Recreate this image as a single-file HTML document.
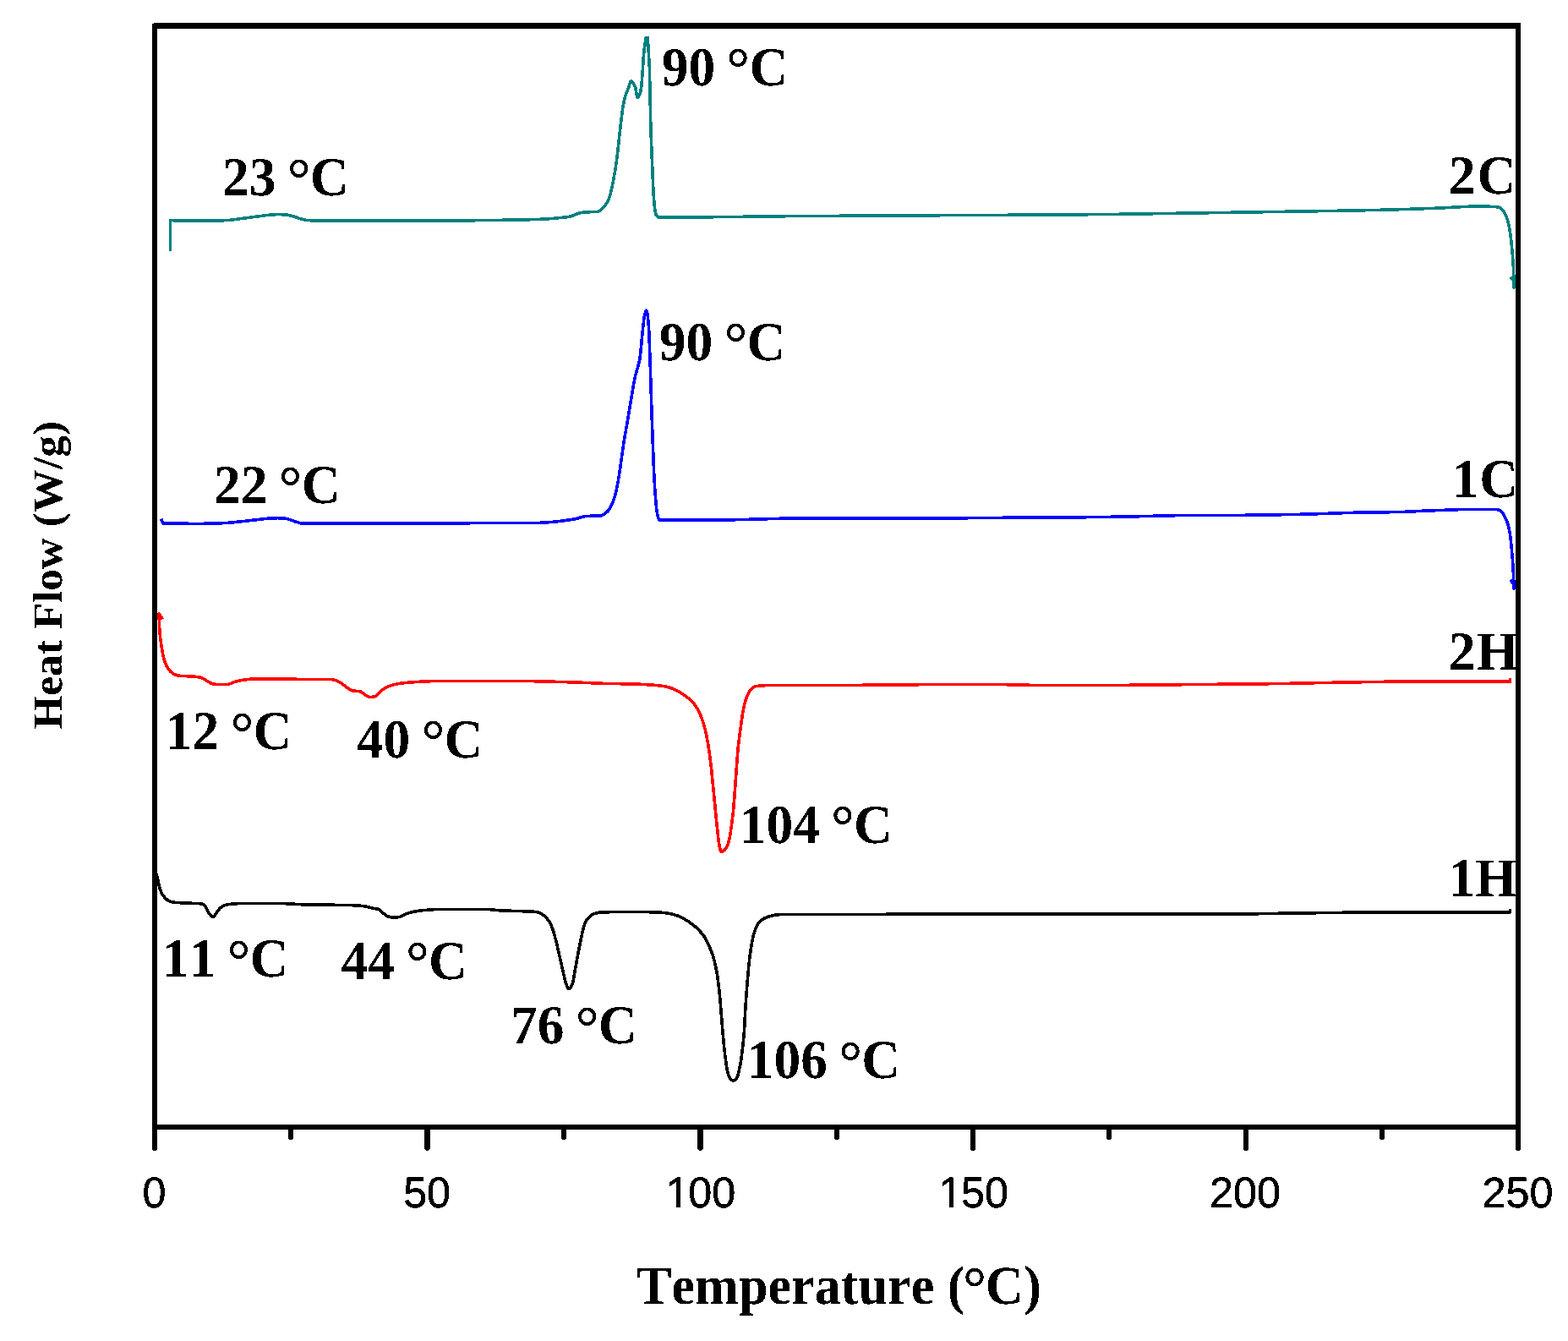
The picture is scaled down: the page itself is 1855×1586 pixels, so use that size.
<!DOCTYPE html>
<html lang="en"><head><meta charset="utf-8"><title>DSC thermogram: Heat Flow vs Temperature</title>
<style>html,body{margin:0;padding:0;background:#fff}body{width:1855px;height:1586px;overflow:hidden}svg{display:block}text{font-kerning:none;font-variant-ligatures:none;text-rendering:geometricPrecision}.s{font-family:"Liberation Serif","Times New Roman",Times,serif;font-weight:bold;fill:#000}.a{font-family:"Liberation Sans",Arial,Helvetica,sans-serif;fill:#000}</style></head><body>
<svg width="1855" height="1586" viewBox="0 0 1855 1586">
<defs><filter id="crisp" x="-5%" y="-20%" width="110%" height="140%" color-interpolation-filters="sRGB"><feComponentTransfer><feFuncA type="discrete" tableValues="0 1"/></feComponentTransfer></filter></defs>
<rect x="0" y="0" width="1855" height="1586" fill="#ffffff"/>
<g id="curves">
<g id="curve-1H">
<g transform="translate(0,0)"><path d="M184.0,1030.0 L186.4,1039.3 L188.6,1049.1 L189.3,1051.4 L190.1,1053.6 L190.7,1055.1 L191.6,1056.9 L193.4,1059.7 L195.4,1062.1 L197.5,1064.0 L199.2,1065.2 L200.9,1066.0 L203.6,1066.8 L206.4,1067.3 L214.4,1067.8 L234.6,1068.6 L237.7,1068.8 L239.1,1069.0 L239.8,1069.4 L240.8,1070.1 L242.9,1072.1 L244.2,1074.0 L246.3,1078.5 L248.3,1081.6 L249.1,1082.5 L249.9,1083.4 L250.9,1084.0 L251.6,1084.4 L252.0,1084.4 L252.7,1084.1 L254.1,1082.6 L256.8,1078.6 L259.3,1075.3 L260.6,1073.8 L262.1,1072.6 L264.5,1071.2 L266.0,1070.6 L267.6,1070.1 L271.0,1069.6 L278.2,1068.8 L285.5,1068.5 L333.5,1068.5 L339.9,1068.8 L354.3,1069.6 L360.3,1069.9 L411.9,1070.5 L419.5,1070.8 L427.1,1071.3 L433.4,1072.1 L439.5,1073.9 L445.1,1074.8 L447.0,1075.2 L448.0,1075.7 L449.0,1076.3 L452.7,1079.6 L456.7,1082.6 L458.4,1083.7 L459.8,1084.2 L461.3,1084.5 L463.7,1084.9 L466.1,1085.1 L467.7,1085.1 L469.7,1084.9 L472.1,1084.5 L474.0,1084.1 L475.5,1083.5 L478.6,1081.6 L480.1,1080.9 L485.0,1079.3 L489.7,1078.2 L494.8,1077.4 L500.4,1076.7 L510.7,1075.8 L516.7,1075.5 L520.3,1075.4 L575.5,1075.4 L580.3,1075.7 L589.9,1076.7 L593.9,1077.0 L625.1,1077.9 L631.9,1078.3 L635.0,1078.7 L636.6,1079.0 L637.7,1079.4 L639.2,1080.1 L642.0,1081.7 L643.9,1083.1 L646.0,1085.0 L648.0,1087.5 L649.8,1090.1 L651.6,1093.3 L653.0,1096.6 L654.1,1099.6 L655.3,1103.4 L658.4,1115.1 L668.6,1160.0 L669.7,1163.4 L671.2,1167.3 L672.1,1168.8 L672.5,1169.3 L673.0,1169.5 L673.4,1169.4 L674.3,1168.8 L675.1,1167.7 L675.9,1166.5 L676.9,1164.3 L677.8,1161.3 L678.5,1157.8 L683.3,1130.8 L684.9,1122.5 L686.6,1113.9 L689.5,1100.6 L690.9,1095.2 L691.7,1092.9 L692.5,1091.1 L693.5,1089.3 L694.5,1087.5 L695.7,1086.0 L697.0,1084.6 L698.6,1083.2 L699.9,1082.2 L702.0,1081.0 L705.0,1080.1 L708.1,1079.3 L711.4,1078.9 L731.3,1078.5 L755.4,1078.4 L771.8,1078.8 L781.8,1079.2 L785.7,1079.5 L789.3,1080.0 L792.9,1080.7 L797.6,1081.9 L801.7,1083.1 L804.7,1084.3 L808.3,1086.2 L813.5,1089.3 L816.8,1091.5 L820.0,1093.9 L823.1,1096.5 L826.2,1099.5 L829.0,1102.5 L831.1,1104.9 L833.0,1107.5 L834.6,1110.2 L836.4,1113.3 L838.1,1117.0 L839.8,1121.0 L841.8,1125.9 L843.4,1130.4 L845.2,1136.5 L847.0,1144.7 L848.6,1153.4 L849.9,1163.3 L851.0,1172.9 L851.9,1182.0 L855.0,1220.3 L856.5,1237.0 L857.7,1247.8 L859.4,1260.5 L860.1,1264.5 L860.9,1268.3 L861.7,1271.0 L862.6,1273.4 L863.5,1275.2 L864.7,1276.7 L866.0,1277.7 L867.1,1278.1 L867.9,1278.0 L868.6,1277.7 L869.4,1277.3 L870.4,1276.5 L871.0,1275.9 L871.6,1275.0 L872.1,1274.1 L872.7,1272.7 L873.6,1269.4 L875.1,1262.6 L876.2,1257.1 L877.1,1251.2 L878.8,1237.3 L880.1,1223.7 L880.7,1215.0 L881.8,1193.8 L882.7,1180.2 L884.1,1161.9 L885.6,1144.3 L886.8,1133.2 L888.3,1122.1 L889.6,1114.2 L891.0,1107.5 L891.8,1104.4 L892.7,1101.7 L893.6,1099.1 L894.7,1096.5 L895.8,1094.4 L896.9,1092.6 L898.1,1090.9 L899.4,1089.4 L900.5,1088.4 L901.7,1087.5 L903.5,1086.5 L905.3,1085.6 L907.3,1084.8 L909.1,1084.2 L912.2,1083.3 L914.9,1082.6 L917.7,1082.1 L920.1,1081.8 L927.3,1081.4 L933.3,1081.3 L981.7,1081.6 L1094.5,1081.1 L1462.1,1081.0 L1478.9,1080.9 L1517.7,1080.2 L1613.3,1079.0 L1786.5,1078.9 L1786.5,1078.9 L1786.7,1075.0" fill="none" stroke="#000000" stroke-width="3.6" stroke-linejoin="round" stroke-linecap="butt" shape-rendering="crispEdges"/></g>
</g>
<g id="curve-2H">
<g transform="translate(0,0)"><path d="M192.3,732.5 L188.2,725.8 L188.2,725.8 L188.4,737.4 L188.7,743.0 L188.9,747.4 L189.4,752.2 L190.1,757.7 L191.2,765.3 L192.0,770.4 L192.8,774.4 L193.6,777.9 L194.4,780.9 L195.2,783.2 L196.2,785.8 L197.6,788.7 L198.9,790.8 L200.3,792.7 L202.2,794.7 L204.4,796.5 L206.2,797.5 L208.7,798.5 L211.1,799.1 L213.1,799.4 L228.3,800.0 L233.1,800.5 L237.0,801.1 L238.5,801.6 L240.3,802.5 L244.1,804.8 L247.5,807.0 L248.9,807.8 L250.0,808.2 L251.5,808.7 L254.7,809.3 L256.7,809.5 L269.5,809.4 L270.6,809.2 L272.1,808.7 L276.2,806.9 L277.8,806.3 L283.2,805.1 L286.7,804.4 L289.9,803.9 L297.1,803.1 L301.5,802.8 L345.5,802.8 L347.5,802.9 L352.6,803.5 L354.6,803.6 L393.0,803.6 L394.6,803.9 L396.5,804.4 L398.8,805.3 L401.7,806.6 L403.7,807.9 L407.5,811.0 L412.8,814.8 L415.2,816.3 L416.7,816.9 L417.8,817.1 L424.2,817.6 L425.8,817.8 L426.5,818.0 L428.2,818.9 L431.5,821.4 L435.0,823.7 L436.4,824.4 L437.6,824.5 L439.6,824.4 L441.6,824.1 L442.7,823.9 L443.7,823.5 L444.7,822.9 L445.6,822.2 L448.8,818.8 L450.0,817.6 L452.3,816.0 L455.0,814.2 L457.1,813.0 L459.2,812.0 L462.6,810.7 L466.1,809.7 L468.8,809.1 L472.7,808.4 L476.7,807.8 L480.3,807.4 L496.2,806.3 L509.4,805.7 L518.2,805.6 L619.4,805.6 L631.0,805.7 L649.8,806.1 L681.8,807.0 L713.4,808.3 L749.0,809.0 L758.2,809.3 L766.3,809.8 L773.9,810.3 L780.7,811.0 L786.9,811.8 L788.8,812.2 L791.8,813.0 L794.9,814.2 L798.6,815.9 L804.0,818.6 L806.0,819.8 L808.4,821.3 L811.4,823.4 L814.5,825.9 L817.2,828.3 L819.8,830.9 L821.5,833.0 L823.2,835.3 L824.9,838.0 L826.6,841.2 L828.2,844.5 L829.7,848.1 L831.1,851.9 L832.3,855.7 L834.1,862.3 L835.9,870.5 L837.6,879.9 L839.2,890.2 L840.5,900.1 L841.7,910.5 L847.7,971.8 L849.9,992.9 L850.7,998.4 L851.7,1003.6 L852.1,1005.0 L852.6,1006.2 L853.1,1007.1 L853.5,1007.3 L854.0,1007.2 L855.0,1006.8 L856.2,1006.1 L857.3,1005.3 L858.5,1003.9 L859.9,1001.5 L861.2,998.3 L862.3,994.5 L863.3,989.8 L864.2,984.7 L866.3,969.6 L867.2,962.0 L867.9,954.4 L868.9,942.5 L872.0,898.6 L873.3,883.4 L874.8,871.1 L877.5,850.9 L878.7,843.0 L879.9,836.7 L881.2,831.2 L882.7,826.2 L884.4,821.8 L886.1,818.4 L887.0,817.1 L888.0,815.8 L889.9,814.1 L891.3,813.1 L892.8,812.2 L893.9,811.8 L895.0,811.5 L901.3,810.9 L907.8,810.6 L996.2,810.6 L1051.0,809.9 L1087.4,809.7 L1183.8,809.6 L1197.0,809.8 L1225.8,810.5 L1238.2,810.6 L1326.6,810.4 L1502.6,808.7 L1525.8,808.3 L1581.0,807.2 L1636.9,806.3 L1786.5,806.2 L1786.5,806.2 L1786.7,802.2" fill="none" stroke="#ff0000" stroke-width="3.6" stroke-linejoin="round" stroke-linecap="butt" shape-rendering="crispEdges"/></g>
</g>
<g id="curve-1C">
<g transform="translate(0,0)"><path d="M190.6,613.5 L192.5,618.5 L192.5,618.8 L209.3,619.2 L234.9,619.4 L248.5,619.2 L265.7,618.6 L271.3,618.2 L277.6,617.6 L290.8,616.2 L314.6,613.4 L322.6,612.9 L328.6,612.7 L333.4,612.9 L337.0,613.2 L338.5,613.4 L340.5,613.9 L344.3,615.1 L349.6,617.0 L353.8,618.3 L357.0,619.0 L359.3,619.2 L506.5,619.2 L557.7,618.7 L634.5,618.5 L641.3,618.2 L650.9,617.6 L655.7,617.2 L662.1,616.5 L672.8,615.0 L680.7,613.7 L683.4,613.1 L688.8,611.3 L691.1,610.8 L693.8,610.5 L697.8,610.3 L710.2,609.9 L711.4,609.7 L712.5,609.3 L713.7,608.7 L715.1,607.8 L717.0,606.4 L718.1,605.4 L719.2,604.3 L720.5,602.6 L721.6,600.9 L722.7,599.1 L724.5,595.2 L726.3,590.3 L728.0,584.5 L729.6,577.9 L731.1,570.0 L733.0,558.6 L736.4,534.0 L738.0,523.3 L749.7,454.3 L750.7,448.8 L751.5,444.9 L752.6,441.0 L755.5,430.6 L756.3,427.5 L756.9,424.4 L757.5,419.6 L758.1,414.5 L759.8,396.1 L761.8,377.3 L762.5,373.4 L763.1,370.6 L764.0,367.9 L764.3,367.3 L764.6,367.2 L764.8,367.4 L765.0,367.9 L765.5,369.4 L766.0,371.8 L766.4,374.3 L767.2,383.0 L767.8,393.0 L769.1,426.7 L771.0,488.2 L772.6,532.6 L773.5,555.8 L774.9,581.0 L776.0,594.9 L776.7,602.2 L777.3,606.3 L778.0,609.8 L778.8,612.7 L779.7,614.3 L780.2,615.0 L780.5,615.1 L780.8,615.2 L818.4,615.2 L866.4,614.8 L883.2,614.4 L926.0,613.2 L935.6,613.0 L1006.4,613.1 L1115.2,613.0 L1196.8,612.2 L1277.6,611.8 L1302.4,611.5 L1344.0,610.8 L1383.2,609.8 L1398.4,609.6 L1462.4,609.4 L1484.4,609.2 L1523.2,608.6 L1542.8,608.2 L1565.9,607.5 L1590.7,606.6 L1601.1,606.3 L1645.5,605.7 L1659.9,605.4 L1666.7,605.1 L1684.7,604.2 L1727.5,602.6 L1734.7,602.5 L1770.2,602.5 L1771.5,602.7 L1772.7,603.1 L1774.2,603.7 L1775.5,604.4 L1776.1,604.9 L1776.9,605.7 L1778.1,607.3 L1779.2,609.2 L1780.7,612.1 L1782.5,616.1 L1783.9,620.3 L1785.1,625.3 L1786.3,631.2 L1787.2,638.0 L1787.9,644.7 L1789.6,663.9 L1790.0,670.7 L1790.5,680.2 L1790.8,688.6 L1790.9,696.2 L1790.9,696.2 L1790.3,690.0 L1786.8,686.0" fill="none" stroke="#0000ff" stroke-width="3.6" stroke-linejoin="round" stroke-linecap="butt" shape-rendering="crispEdges"/></g>
</g>
<g id="curve-2C">
<g transform="translate(0,0)"><path d="M201.4,296.5 L201.4,260.6 L201.4,260.6 L215.0,261.0 L240.2,261.3 L252.6,261.1 L267.8,260.6 L271.8,260.3 L276.1,259.8 L314.2,254.7 L323.8,253.8 L329.0,253.6 L335.8,253.8 L338.6,254.0 L340.5,254.3 L343.3,254.9 L347.2,255.9 L353.2,258.0 L357.8,259.4 L359.8,259.9 L360.9,260.2 L364.1,260.5 L368.9,260.8 L550.9,260.8 L574.9,260.6 L620.1,259.9 L634.9,259.5 L647.3,258.9 L654.5,258.4 L668.8,256.9 L672.4,256.5 L674.7,256.0 L676.6,255.4 L681.4,253.4 L685.6,252.0 L688.0,251.5 L691.1,251.1 L695.1,250.8 L706.7,250.4 L707.5,250.3 L708.2,250.1 L709.2,249.5 L710.2,248.8 L712.4,246.7 L715.4,243.5 L716.7,241.9 L717.8,240.2 L719.2,237.7 L720.4,235.2 L721.6,231.5 L722.7,227.3 L724.0,221.7 L726.4,209.1 L727.9,200.8 L729.1,192.5 L730.7,180.2 L733.0,158.7 L735.4,138.0 L736.3,130.9 L737.3,124.6 L738.4,119.1 L739.5,114.8 L740.7,111.1 L743.8,103.2 L745.3,98.0 L745.7,96.9 L746.0,96.4 L746.5,96.0 L746.9,96.1 L747.7,96.6 L748.5,97.6 L749.6,99.1 L750.6,100.8 L751.3,102.3 L751.8,104.0 L752.3,106.4 L753.4,113.1 L753.8,114.4 L754.2,115.2 L754.4,115.3 L754.7,115.2 L755.1,114.9 L755.7,114.0 L756.7,111.8 L757.6,109.5 L758.0,107.5 L758.5,104.4 L759.2,98.1 L760.3,83.6 L761.4,66.0 L761.8,61.6 L762.3,57.7 L763.9,46.3 L764.2,45.1 L764.4,44.7 L764.6,44.6 L766.3,44.6 L766.4,44.6 L766.5,45.2 L766.7,52.3 L768.3,78.7 L768.6,90.7 L769.7,143.5 L770.2,159.9 L771.1,183.1 L772.7,220.6 L773.2,229.8 L774.2,243.6 L774.8,247.8 L775.3,250.9 L776.0,253.4 L776.5,254.7 L777.1,255.4 L777.7,256.1 L778.4,256.6 L779.1,256.9 L808.6,257.0 L828.2,256.9 L930.2,255.7 L956.2,255.5 L1213.8,254.2 L1278.2,253.8 L1318.2,253.4 L1417.8,251.9 L1571.8,249.5 L1626.2,248.5 L1659.0,247.6 L1700.6,246.2 L1710.1,245.7 L1734.1,244.4 L1746.9,244.0 L1755.7,243.9 L1769.8,244.7 L1772.4,245.0 L1773.2,245.2 L1774.3,245.7 L1775.3,246.5 L1776.6,247.5 L1777.7,248.6 L1778.7,249.8 L1780.4,252.6 L1782.1,256.3 L1783.5,260.4 L1784.8,265.1 L1786.0,271.4 L1787.1,278.5 L1788.1,287.2 L1789.0,297.2 L1789.9,308.8 L1790.4,316.4 L1790.9,329.9 L1791.1,340.0 L1791.1,340.0 L1790.5,332.0 L1787.0,327.5" fill="none" stroke="#008080" stroke-width="3.6" stroke-linejoin="round" stroke-linecap="butt" shape-rendering="crispEdges"/></g>
</g>
</g>
<g id="labels" class="s" font-size="63.4" filter="url(#crisp)">
<text transform="translate(263.1,230.9) scale(1,1.025)">23 <tspan font-size="69.74" dx="-2.67" dy="4.6">°</tspan><tspan dx="-0.77" dy="-4.6">C</tspan></text>
<text transform="translate(782.7,100.5) scale(1,1.025)">90 <tspan font-size="69.74" dx="-2.67" dy="4.6">°</tspan><tspan dx="-0.77" dy="-4.6">C</tspan></text>
<text transform="translate(1713.7,229.1) scale(1,1.025)">2<tspan dx="2.2">C</tspan></text>
<text transform="translate(253.0,594.9) scale(1,1.025)">22 <tspan font-size="69.74" dx="-2.67" dy="4.6">°</tspan><tspan dx="-0.77" dy="-4.6">C</tspan></text>
<text transform="translate(779.8,425.5) scale(1,1.025)">90 <tspan font-size="69.74" dx="-2.67" dy="4.6">°</tspan><tspan dx="-0.77" dy="-4.6">C</tspan></text>
<text transform="translate(1718.1,588.2) scale(1,1.025)">1<tspan dx="0.5">C</tspan></text>
<text transform="translate(195.8,885.8) scale(1,1.025)">12 <tspan font-size="69.74" dx="-2.67" dy="4.6">°</tspan><tspan dx="-0.77" dy="-4.6">C</tspan></text>
<text transform="translate(421.8,895.5) scale(1,1.025)">40 <tspan font-size="69.74" dx="-2.67" dy="4.6">°</tspan><tspan dx="-0.77" dy="-4.6">C</tspan></text>
<text transform="translate(874.7,996.7) scale(1,1.025)">104 <tspan font-size="69.74" dx="-2.67" dy="4.6">°</tspan><tspan dx="-0.77" dy="-4.6">C</tspan></text>
<text transform="translate(1713.8,792.0) scale(1,1.025)">2<tspan dx="1.6">H</tspan></text>
<text transform="translate(191.9,1155.1) scale(1,1.025)">11 <tspan font-size="69.74" dx="-2.67" dy="4.6">°</tspan><tspan dx="-0.77" dy="-4.6">C</tspan></text>
<text transform="translate(403.4,1157.6) scale(1,1.025)">44 <tspan font-size="69.74" dx="-2.67" dy="4.6">°</tspan><tspan dx="-0.77" dy="-4.6">C</tspan></text>
<text transform="translate(604.1,1233.8) scale(1,1.025)">76 <tspan font-size="69.74" dx="-2.67" dy="4.6">°</tspan><tspan dx="-0.77" dy="-4.6">C</tspan></text>
<text transform="translate(883.9,1274.8) scale(1,1.025)">106 <tspan font-size="69.74" dx="-2.67" dy="4.6">°</tspan><tspan dx="-0.77" dy="-4.6">C</tspan></text>
<text transform="translate(1714.1,1060.5) scale(1,1.025)">1<tspan dx="-0.6">H</tspan></text>
</g>
<g id="axes" stroke="#000" fill="none" shape-rendering="crispEdges">
<path d="M183.0,28.0 V1360.0" stroke-width="6.0"/>
<path d="M1796.0,27.0 V1360.0" stroke-width="6.0"/>
<path d="M183.0,1359.0 V1361.0" stroke-width="4.0"/>
<path d="M1796.0,1359.0 V1361.0" stroke-width="4.0"/>
<path d="M182.0,30.5 H1799.0" stroke-width="7.0"/>
<path d="M183.0,1333.0 H1796.0" stroke-width="6.0"/>
<path d="M344.0,1333.0 V1347.0" stroke-width="6"/>
<path d="M344.0,1347.0 V1348.0" stroke-width="4"/>
<path d="M505.5,1333.0 V1359.0" stroke-width="7"/>
<path d="M505.5,1359.0 V1360.0" stroke-width="5"/>
<path d="M505.5,1360.0 V1361.0" stroke-width="3"/>
<path d="M667.0,1333.0 V1347.0" stroke-width="6"/>
<path d="M667.0,1347.0 V1348.0" stroke-width="4"/>
<path d="M828.5,1333.0 V1359.0" stroke-width="7"/>
<path d="M828.5,1359.0 V1360.0" stroke-width="5"/>
<path d="M828.5,1360.0 V1361.0" stroke-width="3"/>
<path d="M990.0,1333.0 V1347.0" stroke-width="6"/>
<path d="M990.0,1347.0 V1348.0" stroke-width="4"/>
<path d="M1151.0,1333.0 V1360.0" stroke-width="6"/>
<path d="M1151.0,1360.0 V1361.0" stroke-width="4"/>
<path d="M1312.0,1333.0 V1347.0" stroke-width="6"/>
<path d="M1312.0,1347.0 V1348.0" stroke-width="4"/>
<path d="M1474.0,1333.0 V1360.0" stroke-width="6"/>
<path d="M1474.0,1360.0 V1361.0" stroke-width="4"/>
<path d="M1635.0,1333.0 V1347.0" stroke-width="6"/>
<path d="M1635.0,1347.0 V1348.0" stroke-width="4"/>
</g>
<g id="ticklabels" class="a" font-size="50.3" text-anchor="middle" stroke="#000" stroke-width="0.5" stroke-linejoin="round" filter="url(#crisp)">
<text transform="translate(182.5,1428.1) scale(1,1.02)">0</text>
<text transform="translate(505.1,1428.1) scale(1,1.02)">50</text>
<text transform="translate(827.7,1428.1) scale(1,1.02)"><tspan dx="1.3">1</tspan><tspan dx="-1.3">00</tspan></text>
<text transform="translate(1150.3,1428.1) scale(1,1.02)"><tspan dx="1.3">1</tspan><tspan dx="-1.3">50</tspan></text>
<text transform="translate(1472.9,1428.1) scale(1,1.02)">200</text>
<text transform="translate(1795.5,1428.1) scale(1,1.02)">250</text>
</g>
<rect x="790" y="1423.5" width="10" height="6.5" fill="#fff"/>
<rect x="805" y="1423.5" width="10" height="6.5" fill="#fff"/>
<rect x="1113" y="1423.5" width="10" height="6.5" fill="#fff"/>
<rect x="1128" y="1423.5" width="9" height="6.5" fill="#fff"/>
<g id="titles" filter="url(#crisp)">
<text class="s" font-size="62.2" transform="translate(753.0,1542.4) scale(1,1.04)">Temperature (<tspan font-size="70.29" dx="-2.6" dy="5.3">°</tspan><tspan dx="-1.2" dy="-5.3">C</tspan><tspan dx="0.6">)</tspan></text>
<text class="s" font-size="51.3" text-anchor="middle" transform="translate(72.8,680.3) rotate(-90) scale(1,0.97)">Heat Flow (W/g)</text>
</g>
</svg></body></html>
